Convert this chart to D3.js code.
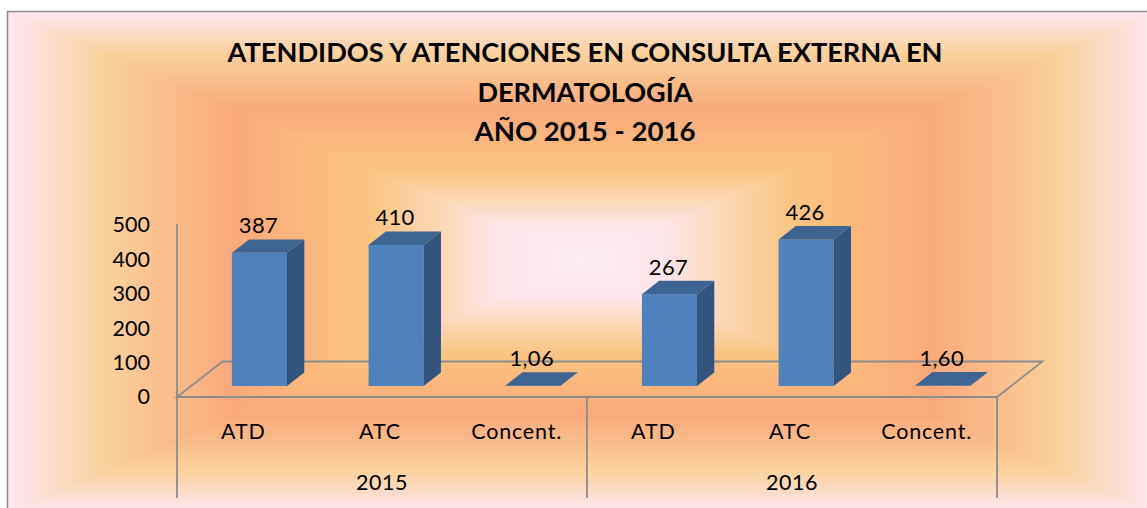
<!DOCTYPE html>
<html>
<head>
<meta charset="utf-8">
<script src="https://cdn.jsdelivr.net/npm/d3@7"></script>
<style>
  body { margin: 0; background: #fff; }
  svg { display: block; }
  text { font-family: Lato, "Open Sans", sans-serif; fill: #000; }
</style>
</head>
<body>
<svg id="chart"></svg>
<script>
const categories = ["ATD", "ATC", "Concent.", "ATD", "ATC", "Concent."];
const years = ["2015", "2016"];
const values2015 = [387, 410, 1.06];
const values2016 = [267, 426, 1.60];
const yTicks = [0, 100, 200, 300, 400, 500];
const titleLines = [
  "ATENDIDOS Y ATENCIONES EN CONSULTA EXTERNA EN",
  "DERMATOLOGÍA",
  "AÑO 2015 - 2016",
];

const width = 1147;
const height = 508;
const values = values2015.concat(values2016);
// rendered widths of the title lines in the picture (Calibri is stretched there)
const titleWidths = [715, 215, 221];

const svg = d3.select("#chart").attr("width", width).attr("height", height);

// chart area with the "rectangle from centre" fill
const frame = { x: 8, y: 12, w: 1148, h: 500 };
const bgColor = d3
  .scaleLinear()
  .domain([0, 0.03, 0.17, 0.39, 0.62, 0.75, 0.86, 1])
  .range(["#fde6f0", "#fce2e2", "#fad19b", "#f9a97b", "#fac47f", "#fcd8b6", "#fde6ec", "#fdebf2"])
  .interpolate(d3.interpolateRgb);

const bg = svg.append("g");
const cx = frame.x + frame.w / 2;
const cy = frame.y + frame.h / 2;
bg.selectAll("rect")
  .data(d3.range(0, 1, 1 / 260))
  .join("rect")
  .attr("x", (t) => cx - (frame.w / 2) * (1 - t))
  .attr("y", (t) => cy - (frame.h / 2) * (1 - t))
  .attr("width", (t) => frame.w * (1 - t))
  .attr("height", (t) => frame.h * (1 - t))
  .attr("fill", (t) => bgColor(t));

svg.append("rect")
  .attr("x", frame.x - 0.5)
  .attr("y", frame.y - 0.5)
  .attr("width", frame.w)
  .attr("height", frame.h)
  .attr("fill", "none")
  .attr("stroke", "#8c8c8c")
  .attr("stroke-width", 1.5);

// title
svg.append("g")
  .selectAll("text")
  .data(titleLines)
  .join("text")
  .attr("x", 585)
  .attr("y", (d, i) => 62 + i * 39.5)
  .attr("text-anchor", "middle")
  .attr("font-weight", "bold")
  .attr("font-size", 26.5)
  .attr("textLength", (d, i) => titleWidths[i])
  .attr("lengthAdjust", "spacingAndGlyphs")
  .text((d) => d);

// scales (front plane of the 3D floor)
const x = d3.scaleBand().domain(d3.range(categories.length)).range([177, 997]);
const y = d3.scaleLinear().domain([0, 500]).range([397, 225]);

const depth = { x: 45.5, y: 35.5 };
const barFront = 0.31;
const barBack = 0.69;
const barW = x.bandwidth() / 2.48;
const ddx = depth.x * (barBack - barFront);
const ddy = depth.y * (barBack - barFront);

const lineColor = "#8c8c8c";
const axes = svg.append("g").attr("stroke", lineColor).attr("stroke-width", 1.8).attr("fill", "none");

// floor
const x0 = x.range()[0];
const x1 = x.range()[1];
axes.append("path")
  .attr("d", `M${x0},${y(0)}L${x1},${y(0)}L${x1 + depth.x},${y(0) - depth.y}L${x0 + depth.x},${y(0) - depth.y}Z`);

// vertical axis line and group separators
axes.append("line")
  .attr("x1", x0).attr("x2", x0)
  .attr("y1", y(500) - 1).attr("y2", 498);
axes.selectAll(".sep")
  .data([3, 6])
  .join("line")
  .attr("class", "sep")
  .attr("x1", (i) => (i < 6 ? x(i) : x1))
  .attr("x2", (i) => (i < 6 ? x(i) : x1))
  .attr("y1", y(0))
  .attr("y2", 498);

// y tick labels
svg.append("g")
  .attr("transform", `translate(${x0},0)`)
  .call(d3.axisLeft(y).tickValues(yTicks).tickSize(0).tickPadding(27))
  .call((g) => g.select(".domain").remove())
  .selectAll("text")
  .attr("font-family", "Lato")
  .attr("font-size", 21.5)
  .attr("fill", "#000");

// 3D bars
svg.append("g")
  .selectAll("g")
  .data(values)
  .join("g")
  .each(function (v, i) {
    const g = d3.select(this);
    const bx = x(i) + (x.bandwidth() - barW) / 2 + depth.x * barFront;
    const by = y(0) - depth.y * barFront;
    const top = by - (y(0) - y(v));
    g.append("rect")
      .attr("x", bx).attr("y", top)
      .attr("width", barW).attr("height", by - top)
      .attr("fill", "#4f81bd");
    g.append("path")
      .attr("d", `M${bx + barW},${by}L${bx + barW},${top}L${bx + barW + ddx},${top - ddy}L${bx + barW + ddx},${by - ddy}Z`)
      .attr("fill", "#32547f");
    g.append("path")
      .attr("d", `M${bx},${top}L${bx + barW},${top}L${bx + barW + ddx},${top - ddy}L${bx + ddx},${top - ddy}Z`)
      .attr("fill", "#3e6492");
  });

// data labels
const fmtDec = d3.formatLocale({ decimal: ",", thousands: ".", grouping: [3], currency: ["", ""] }).format(".2f");
svg.append("g")
  .selectAll("text")
  .data(values)
  .join("text")
  .attr("x", (v, i) => x(i) + x.bandwidth() / 2 + depth.x * barFront - 1)
  .attr("y", (v) => y(v) - depth.y * barBack - 6)
  .attr("text-anchor", "middle")
  .attr("font-size", 22)
  .attr("letter-spacing", 0.3)
  .text((v) => (Number.isInteger(v) ? v : fmtDec(v)));

// category labels
svg.append("g")
  .selectAll("text")
  .data(categories)
  .join("text")
  .attr("x", (d, i) => x(i) + x.bandwidth() / 2 - 2)
  .attr("y", 439)
  .attr("text-anchor", "middle")
  .attr("font-size", 21.5)
  .attr("letter-spacing", 0.8)
  .text((d) => d);

svg.append("g")
  .selectAll("text")
  .data(years)
  .join("text")
  .attr("x", (d, i) => (x(i * 3) + (i === 0 ? x(3) : x1)) / 2)
  .attr("y", 490)
  .attr("text-anchor", "middle")
  .attr("font-size", 21.5)
  .attr("letter-spacing", 0.5)
  .text((d) => d);
</script>
</body>
</html>
